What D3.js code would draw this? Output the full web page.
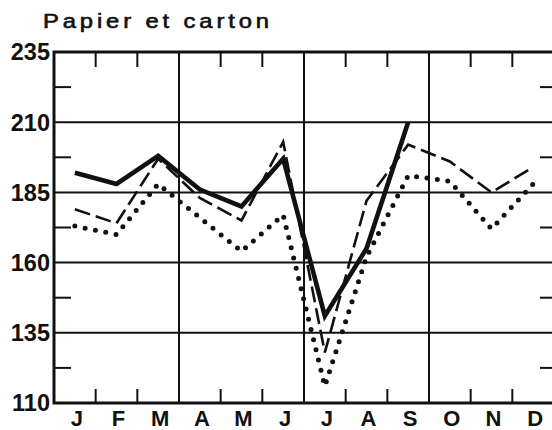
<!DOCTYPE html>
<html><head><meta charset="utf-8">
<script src="https://cdn.jsdelivr.net/npm/d3@7"></script>
<style>body{margin:0;background:#fff}svg{display:block}</style>
</head><body>
<script>
const title = "Papier et carton";
const months = ["J","F","M","A","M","J","J","A","S","O","N","D"];
const yTicks = [110, 135, 160, 185, 210, 235];
const solid  = [192, 188, 198, 186, 180, 197, 141, 165, 210, null, null, null];
const dashed = [179, 174, 197, 183, 175, 203, 128, 182, 202, 196, 185, 194];
const dotted = [173, 170, 188, 176, 164, 177, 116, 162, 191, 189, 172, 188];

const W = 552, H = 430;
const L = 54, R = 554, T = 52, B = 403;
const svg = d3.select("body").append("svg").attr("width", W).attr("height", H);

const x = d3.scaleBand().domain(d3.range(months.length)).range([L, R]).paddingInner(0).paddingOuter(0);
const y = d3.scaleLinear().domain([110, 235]).range([B, T]);
const cx = i => x(i) + x.bandwidth() / 2;

const ink = "#111";

svg.append("g").selectAll("line").data(yTicks.slice(1, -1)).join("line")
  .attr("x1", L).attr("x2", R).attr("y1", d => y(d)).attr("y2", d => y(d))
  .attr("stroke", ink).attr("stroke-width", 2);

svg.append("g").selectAll("line").data([3, 6, 9]).join("line")
  .attr("x1", d => x(d)).attr("x2", d => x(d)).attr("y1", T).attr("y2", B)
  .attr("stroke", ink).attr("stroke-width", 2);

const monthB = d3.range(1, 12).filter(i => i % 3 !== 0);
svg.append("g").selectAll("line").data(monthB).join("line")
  .attr("x1", d => x(d)).attr("x2", d => x(d)).attr("y1", T).attr("y2", T + 15)
  .attr("stroke", ink).attr("stroke-width", 2);
svg.append("g").selectAll("line").data(monthB).join("line")
  .attr("x1", d => x(d)).attr("x2", d => x(d)).attr("y1", B).attr("y2", B - 14)
  .attr("stroke", ink).attr("stroke-width", 2);

const halfT = d3.range(0, 5).map(i => yTicks[i] + 12.5);
svg.append("g").selectAll("line").data(halfT).join("line")
  .attr("x1", L).attr("x2", L + 17).attr("y1", d => y(d)).attr("y2", d => y(d))
  .attr("stroke", ink).attr("stroke-width", 2);
svg.append("g").selectAll("line").data(halfT).join("line")
  .attr("x1", R - 14).attr("x2", R).attr("y1", d => y(d)).attr("y2", d => y(d))
  .attr("stroke", ink).attr("stroke-width", 2);

svg.append("path")
  .attr("d", `M${R},${T}H${L}V${B}H${R}`)
  .attr("fill", "none").attr("stroke", ink).attr("stroke-width", 3);

svg.append("g").selectAll("text").data(yTicks).join("text")
  .attr("x", L - 4).attr("y", d => y(d)).attr("dy", "0.36em")
  .attr("text-anchor", "end")
  .attr("font-family", "Liberation Sans, Arial, sans-serif").attr("font-weight", "bold")
  .attr("font-size", 23.5).attr("fill", ink)
  .text(d => d);

svg.append("g").selectAll("text").data(months).join("text")
  .attr("x", (d, i) => cx(i) + 2).attr("y", 426)
  .attr("text-anchor", "middle")
  .attr("font-family", "Liberation Sans, Arial, sans-serif").attr("font-weight", "bold")
  .attr("font-size", 22).attr("fill", ink)
  .text(d => d);

const sx = 1.22;
svg.append("text")
  .attr("transform", `translate(43,28) scale(${sx},1)`)
  .attr("font-family", "Liberation Sans, Arial, sans-serif")
  .attr("font-size", 19.5).attr("fill", ink).attr("stroke", ink).attr("stroke-width", 0.6)
  .attr("textLength", 226 / sx).attr("lengthAdjust", "spacing")
  .text(title);

const line = d3.line().defined(d => d != null).x((d, i) => cx(i)).y(d => y(d));

svg.append("path").datum(dotted).attr("d", line)
  .attr("fill", "none").attr("stroke", ink).attr("stroke-width", 5)
  .attr("stroke-linecap", "round").attr("stroke-dasharray", "0 10.5");

svg.append("path").datum(dashed).attr("d", line)
  .attr("fill", "none").attr("stroke", ink).attr("stroke-width", 2.6)
  .attr("stroke-dasharray", "16 6");

svg.append("path").datum(solid).attr("d", line)
  .attr("fill", "none").attr("stroke", ink).attr("stroke-width", 4.6)
  .attr("stroke-linejoin", "miter");
</script>
</body></html>
